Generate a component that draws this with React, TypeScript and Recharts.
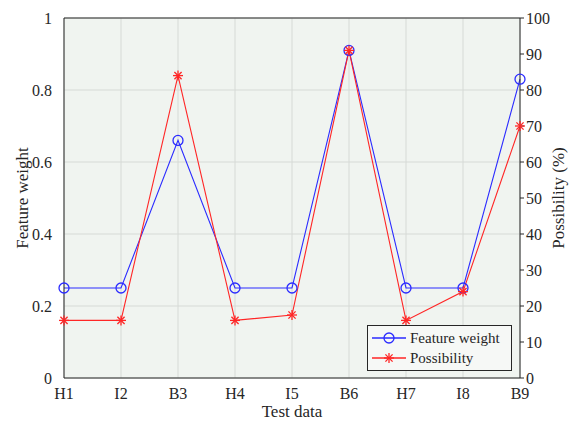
import React from "react";
import {
  LineChart, Line, XAxis, YAxis, CartesianGrid, ReferenceLine,
} from "recharts";

const categories = ["H1", "I2", "B3", "H4", "I5", "B6", "H7", "I8", "B9"];
const featureWeight = [0.25, 0.25, 0.66, 0.25, 0.25, 0.91, 0.25, 0.25, 0.83];
const possibility = [16, 16, 84, 16, 17.5, 91, 16, 24, 70];
const leftTicks = [0, 0.2, 0.4, 0.6, 0.8, 1];
const rightTicks = [0, 10, 20, 30, 40, 50, 60, 70, 80, 90, 100];

const data = categories.map((name, i) => ({
  name,
  weight: featureWeight[i],
  possibility: possibility[i],
}));

const FONT = "Liberation Serif";
const AXIS = "#262626";
const BLUE = "#2b2bff";
const RED = "#ff2626";

function Circle(props: any) {
  const { cx, cy } = props;
  if (cx == null || cy == null) return null;
  return <circle cx={cx} cy={cy} r={5} fill="none" stroke={BLUE} strokeWidth={1.3} />;
}

function Star(props: any) {
  const { cx, cy } = props;
  if (cx == null || cy == null) return null;
  const r = 5;
  const d = r * 0.72;
  return (
    <g stroke={RED} strokeWidth={1.3}>
      <line x1={cx - r} y1={cy} x2={cx + r} y2={cy} />
      <line x1={cx} y1={cy - r} x2={cx} y2={cy + r} />
      <line x1={cx - d} y1={cy - d} x2={cx + d} y2={cy + d} />
      <line x1={cx - d} y1={cy + d} x2={cx + d} y2={cy - d} />
    </g>
  );
}

function LegendBox() {
  const row = (color: string, marker: React.ReactNode, label: string) => (
    <div style={{ display: "flex", alignItems: "center", height: 20 }}>
      <svg width={38} height={14} style={{ flex: "none" }}>
        <line x1={2} y1={7} x2={36} y2={7} stroke={color} strokeWidth={1.3} />
        {marker}
      </svg>
      <span style={{ marginLeft: 2 }}>{label}</span>
    </div>
  );
  return (
    <div
      style={{
        position: "absolute",
        left: 367,
        top: 325,
        width: 145,
        boxSizing: "border-box",
        whiteSpace: "nowrap",
        border: "1px solid #262626",
        background: "#f6f8f6",
        padding: "2px 2px",
        fontFamily: FONT,
        fontSize: 15,
        color: "#262626",
        lineHeight: "20px",
      }}
    >
      {row(BLUE, <Circle cx={19} cy={7} />, "Feature weight")}
      {row(RED, <Star cx={19} cy={7} />, "Possibility")}
    </div>
  );
}

export default function App() {
  const tick = { fontSize: 16, fill: AXIS, fontFamily: FONT };
  return (
    <div style={{ position: "absolute", left: 0, top: 0, width: 576, height: 424, background: "#fff", fontFamily: FONT }}>
      <LineChart width={576} height={424} data={data} margin={{ top: 18, right: 0, left: 0, bottom: 0 }}>
        <CartesianGrid yAxisId="left" fill="#f0f4f0" stroke="#d6dad6" strokeWidth={1} />
        <XAxis
          dataKey="name"
          height={46}
          tick={tick}
          tickLine={false}
          axisLine={{ stroke: AXIS }}
          interval={0}
          tickMargin={4}
          label={{ value: "Test data", position: "insideBottom", offset: 7, style: { fontSize: 17, fill: AXIS, fontFamily: FONT } }}
        />
        <YAxis
          yAxisId="left"
          domain={[0, 1]}
          ticks={leftTicks}
          width={64}
          tick={tick}
          tickLine={false}
          tickMargin={6}
          axisLine={{ stroke: AXIS }}
          label={{ value: "Feature weight", angle: -90, position: "insideLeft", offset: 22, style: { textAnchor: "middle", fontSize: 17, fill: AXIS, fontFamily: FONT } }}
        />
        <YAxis
          yAxisId="right"
          orientation="right"
          domain={[0, 100]}
          ticks={rightTicks}
          width={56}
          tick={tick}
          tickSize={4}
          tickLine={{ stroke: AXIS }}
          axisLine={{ stroke: AXIS }}
          label={{ value: "Possibility (%)", angle: -90, position: "insideRight", offset: 18, style: { textAnchor: "middle", fontSize: 17, fill: AXIS, fontFamily: FONT } }}
        />
        <ReferenceLine yAxisId="left" y={1} stroke={AXIS} />
        <Line
          yAxisId="left"
          dataKey="weight"
          name="Feature weight"
          type="linear"
          stroke={BLUE}
          strokeWidth={1.1}
          dot={<Circle />}
          activeDot={false}
          isAnimationActive={false}
        />
        <Line
          yAxisId="right"
          dataKey="possibility"
          name="Possibility"
          type="linear"
          stroke={RED}
          strokeWidth={1.1}
          dot={<Star />}
          activeDot={false}
          isAnimationActive={false}
        />
      </LineChart>
      <LegendBox />
    </div>
  );
}
